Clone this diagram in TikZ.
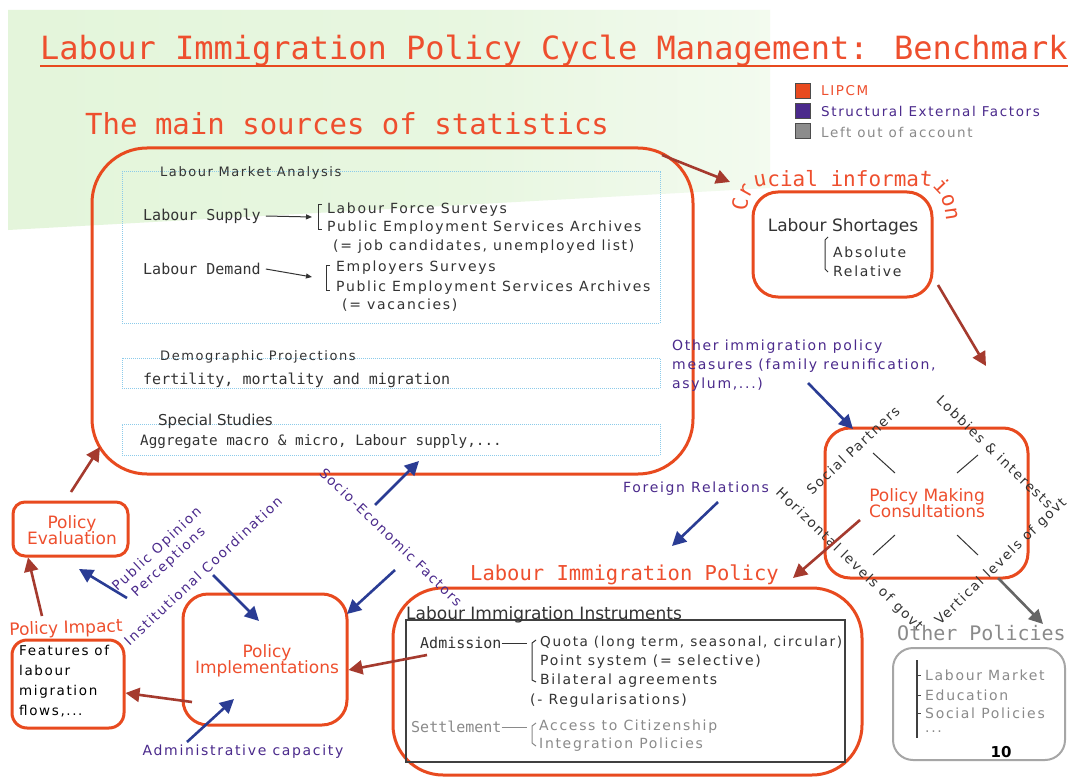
\documentclass[tikz,border=0pt]{standalone}
\usepackage{fontspec}
\setmainfont{DejaVu Sans}
\newfontfamily\monof{DejaVu Sans Mono}
\newfontfamily\spf[LetterSpace=12]{DejaVu Sans}
\usetikzlibrary{arrows.meta,decorations.text}
\definecolor{lred}{HTML}{E84A1F}
\definecolor{tred}{HTML}{EE4F2E}
\definecolor{dred}{HTML}{A53A2E}
\definecolor{navy}{HTML}{2A3C94}
\definecolor{purp}{HTML}{4B2A8C}
\definecolor{lblue}{HTML}{8CCBEA}
\definecolor{gbg}{HTML}{E0F4D6}
\definecolor{dk}{HTML}{333333}
\definecolor{gtx}{HTML}{8A8A8A}
\newcommand\fsz[1]{\fontsize{#1}{#1}\selectfont}
\pgfdeclarehorizontalshading{gfade}{100bp}{color(0bp)=(gbg); color(55bp)=(gbg!75); color(80bp)=(gbg!30); color(100bp)=(white)}
\begin{document}
\begin{tikzpicture}[x=1pt,y=-1pt,
  redbox/.style={draw=lred, line width=3pt, inner sep=0pt},
  dotbox/.style={draw=lblue, densely dotted, line width=1pt, inner sep=0pt},
  txt/.style={inner sep=0pt, anchor=west},
  rarr/.style={draw=dred, line width=2.6pt, -{Triangle[length=14pt,width=14pt]}},
  barr/.style={draw=navy, line width=2.6pt, -{Triangle[length=14pt,width=14pt]}},
  garr/.style={draw=black!60, line width=2.6pt, -{Triangle[length=14pt,width=14pt]}},
  legsq/.style={draw=black!70, line width=1pt, minimum size=15pt, inner sep=0pt},
  brk/.style={draw=dk, line width=1pt}]
\useasboundingbox (0,0) rectangle (1073,778);
\fill[white] (0,0) rectangle (1073,778);
% background
\shade[shading=gfade] (8,10) -- (770,10) -- (770,188) -- (8,230) -- cycle;

% titles
\node[txt, anchor=base west, text=tred, font=\monof\fsz{32}] (title) at (40,60) {Labour Immigration Policy Cycle Management: Benchmark};
\draw[lred, line width=1.5pt] ([yshift=-6pt]title.base west) -- ([yshift=-6pt]title.base east);
\node[txt, anchor=base west, text=tred, font=\monof\fsz{29}] (sub) at (85,135) {The main sources of statistics};

% legend
\node[legsq, fill=lred] (lg1) at (803,91) {};
\node[legsq, fill=purp] (lg2) at (803,111) {};
\node[legsq, fill=black!45] (lg3) at (803,131) {};
\node[txt, text=tred, font=\spf\fsz{13.5}] (lt1) at (821,91) {LIPCM};
\node[txt, text=purp, font=\spf\fsz{13.5}] (lt2) at (821,111) {Structural External Factors};
\node[txt, text=gtx, font=\spf\fsz{13.5}] (lt3) at (821,132) {Left out of account};

% sources box
\node[redbox, rounded corners=55pt, minimum width=601pt, minimum height=326pt] (src) at (392.5,311) {};
\node[dotbox, minimum width=538pt, minimum height=151pt] (lma) at (391,247.5) {};
\node[txt, text=dk, font=\spf\fsz{13}] (lmat) at (160,173) {Labour Market Analysis};
\node[txt, text=dk, font=\monof\fsz{15}] (lsup) at (143,216) {Labour Supply};
\node[txt, text=dk, font=\monof\fsz{15}] (ldem) at (143,269) {Labour Demand};
\coordinate (bs) at (318,217);
\coordinate (bd) at (326,277);
\draw[brk, -{Triangle[length=6pt,width=5pt]}] ([xshift=5pt]lsup.east) -- ([xshift=-6pt]bs);
\draw[brk, -{Triangle[length=6pt,width=5pt]}] ([xshift=5pt]ldem.east) -- ([xshift=-14pt]bd);
\draw[brk] (322,205) -- (318,205) -- (318,229) -- (322,229);
\draw[brk] (330,265) -- (326,265) -- (326,290) -- (330,290);
\node[txt, text=dk, font=\spf\fsz{14}] (s1) at (327,210) {Labour Force Surveys};
\node[txt, text=dk, font=\spf\fsz{14}] (s2) at (327,228) {Public Employment Services Archives};
\node[txt, text=dk, font=\spf\fsz{14}] (s3) at (333,247) {(= job candidates, unemployed list)};
\node[txt, text=dk, font=\spf\fsz{14}] (d1) at (336,268) {Employers Surveys};
\node[txt, text=dk, font=\spf\fsz{14}] (d2) at (336,288) {Public Employment Services Archives};
\node[txt, text=dk, font=\spf\fsz{14}] (d3) at (342,305) {(= vacancies)};

\node[dotbox, minimum width=538pt, minimum height=30pt] (dem) at (391,373) {};
\node[txt, text=dk, font=\spf\fsz{13}] (demt) at (160,357) {Demographic Projections};
\node[txt, text=dk, font=\monof\fsz{15}] (demx) at (143,380) {fertility, mortality and migration};
\node[dotbox, minimum width=538pt, minimum height=31pt] (spe) at (391,439.5) {};
\node[txt, text=dk, font=\fsz{15}] (spet) at (158,421) {Special Studies};
\node[txt, text=dk, font=\monof\fsz{14.3}] (spex) at (140,442) {Aggregate macro \& micro, Labour supply,...};

% labour shortages
\node[redbox, rounded corners=25pt, minimum width=179pt, minimum height=105pt] (ls) at (842.5,244.5) {};
\path[decorate, decoration={text along path, text align=left, text={|\monof\fsz{21}\color{tred}|Crucial information}}]
  (747,212) .. controls (748,196) and (753,186) .. (764,186) -- (923,186) .. controls (938,186) and (946,198) .. (947,234);
\node[text=dk, font=\fsz{17}, inner sep=0pt] (lst) at (843,227) {Labour Shortages};
\draw[brk] (828,237) -- (825,240) -- (825,269) -- (828,272);
\node[txt, text=dk, font=\spf\fsz{14}] (abs) at (833,252) {Absolute};
\node[txt, text=dk, font=\spf\fsz{14}] (rel) at (833,271) {Relative};

% policy making consultations
\node[redbox, rounded corners=25pt, minimum width=203pt, minimum height=150pt] (pmc) at (926.5,503) {};
\node[text=tred, font=\fsz{17}, align=center, inner sep=0pt] (pmct) at (927,503) {Policy Making\\[-1pt]Consultations};
\draw[dk, line width=1pt] (873,453) -- (895,473);
\draw[dk, line width=1pt] (957,473) -- (978,455);
\draw[dk, line width=1pt] (873,555) -- (895,535);
\draw[dk, line width=1pt] (957,535) -- (978,555);
\node[rotate=43, text=dk, font=\spf\fsz{13.5}, inner sep=0pt] (sp) at (853,450) {Social Partners};
\node[rotate=-44, text=dk, font=\spf\fsz{13.5}, inner sep=0pt] (lob) at (995,452) {Lobbies \& interests};
\node[rotate=-44, text=dk, font=\spf\fsz{13.5}, inner sep=0pt] (hor) at (849,560) {Horizontal levels of govt};
\node[rotate=44, text=dk, font=\spf\fsz{13.5}, inner sep=0pt] (ver) at (1001,562) {Vertical levels of govt};

\node[txt, anchor=north west, text=purp, font=\spf\fontsize{14}{19}\selectfont, align=left] (oth) at (672,340) {Other immigration policy\\measures (family reunification,\\asylum,...)};
\node[txt, text=purp, font=\spf\fsz{14}] (for) at (623,489) {Foreign Relations};

% other policies
\node[txt, text=gtx, font=\monof\fsz{20}] (opt) at (897,633) {Other Policies};
\node[draw=black!35, line width=2pt, rounded corners=20pt, minimum width=172pt, minimum height=112pt, inner sep=0pt] (op) at (979,704) {};
\draw[black!75, line width=1.5pt] (917,660) -- (917,738);
\foreach \yy in {675,695,713} \draw[black!75, line width=1pt] (917,\yy) -- (921,\yy);
\node[txt, text=gtx, font=\spf\fsz{14}] (op1) at (925,675) {Labour Market};
\node[txt, text=gtx, font=\spf\fsz{14}] (op2) at (925,695) {Education};
\node[txt, text=gtx, font=\spf\fsz{14}] (op3) at (925,713) {Social Policies};
\node[txt, text=gtx, font=\spf\fsz{14}] (op4) at (925,732) {...};
\node[text=black, font=\bfseries\fsz{15}, inner sep=0pt] (pg) at (1001,752) {10};

% labour immigration policy
\node[txt, text=tred, font=\monof\fsz{20.5}] (lipt) at (470,575) {Labour Immigration Policy};
\node[redbox, rounded corners=50pt, minimum width=469pt, minimum height=187pt] (lip) at (627.5,681.5) {};
\node[draw=black!75, line width=1.5pt, minimum width=439pt, minimum height=142pt, inner sep=0pt] (lii) at (625.5,691) {};
\node[txt, anchor=base west, text=dk, font=\fsz{17}] (liit) at (406,619) {Labour Immigration Instruments};
\node[txt, text=dk, font=\monof\fsz{15}] (adm) at (420,643) {Admission};
\draw[brk] (adm.east) -- (527,643);
\draw[brk] (536,640) -- (532,643) -- (532,680) -- (536,682);
\node[txt, text=dk, font=\spf\fsz{13.6}] (q1) at (540,643) {Quota (long term, seasonal, circular)};
\node[txt, text=dk, font=\spf\fsz{14}] (q2) at (540,662) {Point system (= selective)};
\node[txt, text=dk, font=\spf\fsz{14}] (q3) at (540,681) {Bilateral agreements};
\node[txt, text=dk, font=\spf\fsz{14}] (q4) at (530,701) {(- Regularisations)};
\node[txt, text=gtx, font=\monof\fsz{15}] (set) at (411,727) {Settlement};
\draw[brk, draw=gtx] (set.east) -- (527,727);
\draw[brk, draw=gtx] (536,723) -- (532,726) -- (532,743) -- (536,746);
\node[txt, text=gtx, font=\spf\fsz{14}] (c1) at (539,727) {Access to Citizenship};
\node[txt, text=gtx, font=\spf\fsz{14}] (c2) at (539,745) {Integration Policies};

% policy implementations / evaluation / impact
\node[redbox, rounded corners=25pt, minimum width=164pt, minimum height=131pt] (pi) at (265,659.5) {};
\node[text=tred, font=\fsz{17}, align=center, inner sep=0pt] (pit) at (267,661) {Policy\\[-1pt]Implementations};
\node[redbox, rounded corners=12pt, minimum width=115pt, minimum height=54pt] (pe) at (70.5,529) {};
\node[text=tred, font=\fsz{17}, align=center, inner sep=0pt] (pet) at (72,530) {Policy\\[-1pt]Evaluation};
\node[text=tred, font=\fsz{17}, rotate=2, inner sep=0pt] (pimp) at (66,629) {Policy Impact};
\node[redbox, rounded corners=15pt, minimum width=112pt, minimum height=88pt] (fe) at (68,684) {};
\node[txt, anchor=north west, text=black, font=\spf\fontsize{13.5}{20}\selectfont, align=left] (fet) at (19,645) {Features of\\labour\\migration\\flows,...};

% rotated purple labels
\node[rotate=-44, text=purp, font=\spf\fsz{13.5}, inner sep=0pt] (soc) at (391,537) {Socio-Economic Factors};
\node[rotate=43, text=purp, font=\spf\fontsize{13.5}{17}\selectfont, align=center, inner sep=0pt] (pop) at (163,556) {Public Opinion\\Perceptions};
\node[rotate=43, text=purp, font=\spf\fsz{13.5}, inner sep=0pt] (inst) at (203,571) {Institutional Coordination};
\node[text=purp, font=\spf\fsz{14}, inner sep=0pt] (admc) at (243,752) {Administrative capacity};

% dark red arrows
\coordinate (e1) at (730,182);
\coordinate (e2) at (986,366);
\coordinate (e3) at (793,578);
\draw[rarr] (662,155) -- (e1);
\draw[rarr] (938,285) -- (e2);
\draw[rarr] (860,520) -- (e3);
\draw[rarr] (427,655) -- (pi.east |- 0,670);
\draw[rarr] (192,702) -- (fe.east |- 0,693);
\draw[rarr] (42,616) -- (pe.south west -| 28,0);
\draw[rarr] (71,492) -- (100,447);
\draw[garr] (998,578) -- (1043,624);

% blue arrows
\draw[barr] (808,383) -- (853,429);
\draw[barr] (718,502) -- (672,546);
\draw[barr] (127,598) -- (79,569);
\draw[barr] (213,575) -- (259,621);
\draw[barr] (395,570) -- (347,614);
\draw[barr] (375,505) -- (419,461);
\draw[barr] (187,742) -- (234,699);
\end{tikzpicture}
\end{document}
